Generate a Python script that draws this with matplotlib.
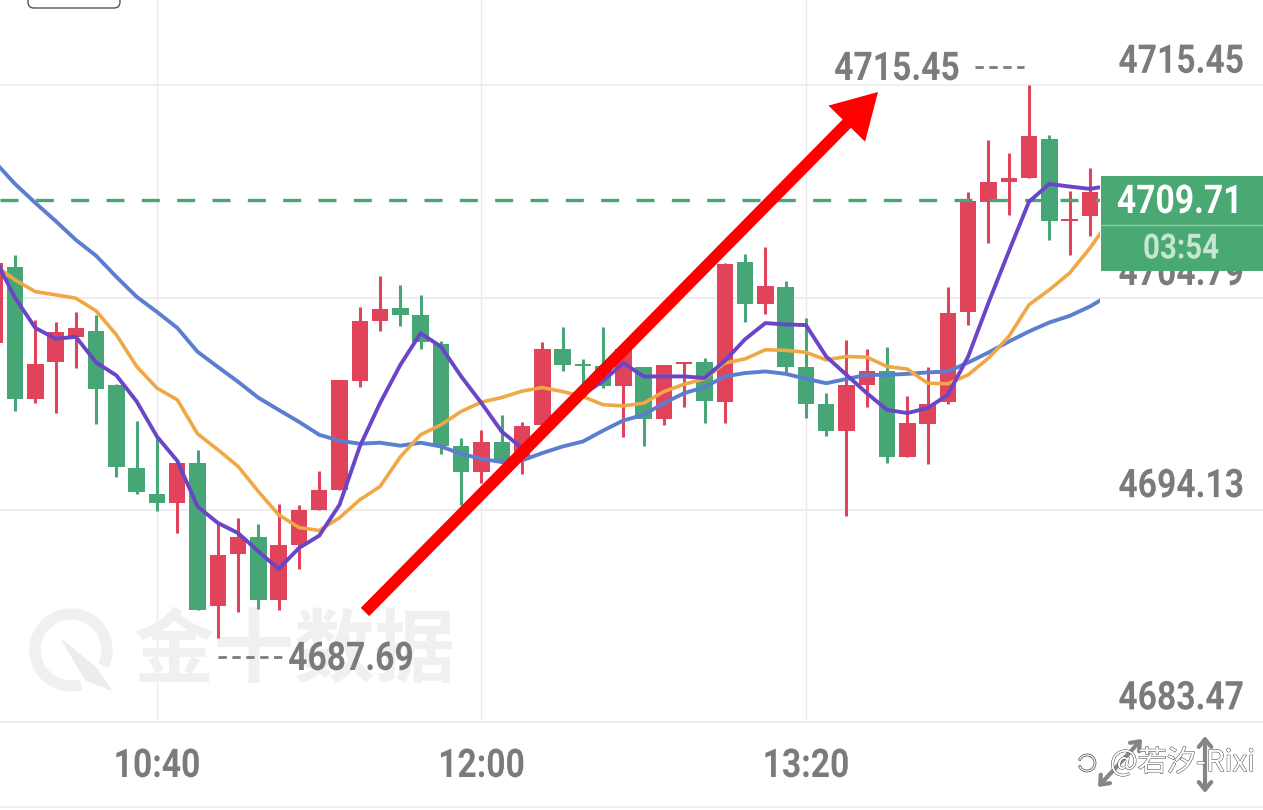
import numpy as np
import matplotlib
matplotlib.use("Agg")
import matplotlib.pyplot as plt
import matplotlib.patheffects as pe
from matplotlib.lines import Line2D
from matplotlib.patches import FancyBboxPatch, Polygon, Rectangle, Wedge
from matplotlib.transforms import Affine2D

# candles, 5 min each, first one is cut off by the left edge
opens = [4702.52, 4706.35, 4699.69, 4701.55, 4702.83, 4703.11, 4700.41, 4696.23, 4694.92, 4694.47, 4696.46,
         4689.31, 4691.92, 4692.78, 4689.60, 4692.36, 4694.12, 4695.14, 4700.61, 4703.62, 4704.28, 4703.92,
         4702.47, 4697.31, 4696.03, 4697.55, 4696.64, 4698.37, 4702.20, 4701.43, 4701.33, 4700.37, 4701.31,
         4698.67, 4701.43, 4701.55, 4699.56, 4706.58, 4704.48, 4705.34, 4701.28, 4699.46, 4698.08, 4700.41,
         4701.11, 4696.79, 4698.42, 4699.54, 4704.06, 4709.58, 4710.62, 4710.80, 4712.76, 4708.64, 4708.89]
highs = [4706.54, 4706.94, 4703.67, 4703.54, 4704.06, 4703.92, 4700.44, 4698.57, 4697.81, 4696.48, 4697.15,
         4693.47, 4693.70, 4693.41, 4694.42, 4694.38, 4696.09, 4700.66, 4704.31, 4705.90, 4705.40, 4704.93,
         4702.60, 4697.73, 4698.15, 4698.90, 4698.52, 4702.55, 4703.32, 4701.70, 4703.32, 4702.33, 4701.31,
         4701.40, 4701.56, 4701.78, 4706.52, 4706.99, 4707.34, 4705.60, 4703.77, 4700.02, 4702.67, 4702.22,
         4702.33, 4699.86, 4701.28, 4705.33, 4710.08, 4712.71, 4712.06, 4715.45, 4712.96, 4710.15, 4711.29]
lows = [4702.52, 4699.07, 4699.51, 4698.99, 4701.23, 4698.44, 4695.80, 4694.94, 4694.08, 4692.96, 4689.08,
        4687.69, 4689.00, 4689.16, 4689.11, 4691.16, 4694.12, 4695.10, 4700.31, 4703.09, 4703.34, 4702.22,
        4696.93, 4694.38, 4695.50, 4696.49, 4695.94, 4698.37, 4701.10, 4700.32, 4700.26, 4697.81, 4697.36,
        4698.37, 4699.27, 4698.47, 4698.47, 4703.57, 4703.97, 4701.00, 4698.74, 4697.86, 4693.80, 4699.27,
        4696.48, 4696.79, 4696.43, 4699.44, 4703.42, 4707.52, 4708.96, 4710.80, 4707.67, 4706.95, 4707.86]
closes = [4706.54, 4699.71, 4701.46, 4703.04, 4703.24, 4700.22, 4696.28, 4695.04, 4694.48, 4696.48, 4689.08,
          4691.86, 4692.78, 4689.60, 4692.36, 4694.12, 4695.14, 4700.63, 4703.62, 4704.23, 4703.91, 4702.58,
          4697.35, 4696.04, 4697.55, 4696.61, 4698.35, 4702.20, 4701.41, 4701.36, 4700.36, 4702.23, 4698.67,
          4701.40, 4701.53, 4699.61, 4706.50, 4704.48, 4705.38, 4701.29, 4699.46, 4698.10, 4700.39, 4701.08,
          4696.76, 4698.47, 4699.42, 4704.01, 4709.66, 4710.59, 4710.79, 4712.90, 4708.63, 4708.76, 4710.08]

# moving averages, one point per candle plus one running under the price box
ma_purple = [4706.79, 4704.78, 4703.27, 4702.72, 4702.82, 4701.53, 4700.88, 4699.57, 4697.81, 4696.59, 4694.30,
             4693.47, 4692.96, 4692.04, 4691.16, 4692.21, 4692.83, 4694.38, 4697.31, 4699.49, 4701.41, 4703.00,
             4702.33, 4700.83, 4699.49, 4698.06, 4697.23, 4698.05, 4699.00, 4699.91, 4700.61, 4701.50, 4700.83,
             4700.83, 4700.83, 4700.75, 4701.61, 4702.70, 4703.51, 4703.44, 4703.41, 4701.83, 4700.91, 4699.99,
             4699.15, 4698.99, 4699.24, 4699.91, 4701.83, 4704.53, 4707.10, 4709.61, 4710.50, 4710.37, 4710.25, 4710.42]
ma_orange = [4706.43, 4705.68, 4705.09, 4704.93, 4704.76, 4704.12, 4702.92, 4701.33, 4700.24, 4699.66, 4697.95,
             4697.15, 4696.31, 4695.05, 4693.88, 4693.24, 4693.09, 4693.73, 4694.63, 4695.30, 4696.79, 4697.90,
             4698.40, 4699.07, 4699.54, 4699.77, 4700.09, 4700.27, 4700.07, 4699.82, 4699.41, 4699.35, 4699.49,
             4700.07, 4700.44, 4700.71, 4701.50, 4701.71, 4702.17, 4702.14, 4702.04, 4701.66, 4701.83, 4701.80,
             4701.33, 4701.20, 4700.49, 4700.46, 4700.91, 4701.75, 4702.83, 4704.43, 4705.18, 4706.02, 4707.27, 4708.71]
ma_blue = [4711.61, 4710.50, 4709.55, 4708.64, 4707.69, 4706.89, 4705.83, 4704.83, 4704.07, 4703.27, 4702.07,
           4701.31, 4700.56, 4699.76, 4699.15, 4698.55, 4697.90, 4697.60, 4697.45, 4697.50, 4697.35, 4697.50,
           4697.31, 4696.94, 4696.69, 4696.53, 4696.61, 4696.98, 4697.31, 4697.56, 4698.11, 4698.62, 4698.90,
           4699.49, 4699.99, 4700.29, 4700.83, 4701.00, 4701.08, 4700.96, 4700.71, 4700.49, 4700.70, 4700.91,
           4700.91, 4700.96, 4701.03, 4701.08, 4701.53, 4702.03, 4702.58, 4703.09, 4703.54, 4703.87, 4704.34, 4704.94]

price_ticks = [4715.45, 4704.79, 4694.13, 4683.47]
price_labels = ["4715.45", "4704.79", "4694.13", "4683.47"]
time_ticks = [7, 23, 39]
time_labels = ["10:40", "12:00", "13:20"]
last_price = 4709.71
countdown = "03:54"
high_label = "4715.45"
low_label = "4687.69"

RED = "#e0435a"
GREEN = "#46a675"
GRAY = "#7b7b7b"
GRID = "#ebebeb"
NUM_FONT = ["Roboto", "DejaVu Sans"]
CJK_FONT = ["Noto Sans CJK SC", "DejaVu Sans"]


class Squeeze(pe.AbstractPathEffect):
    # no condensed font installed, so narrow the glyphs around their centre
    def __init__(self, factor):
        super().__init__()
        self.factor = factor

    def draw_path(self, renderer, gc, tpath, affine, rgbFace=None):
        box = tpath.get_extents(affine)
        cx = (box.x0 + box.x1) / 2
        narrow = affine + Affine2D().translate(-cx, 0).scale(self.factor, 1).translate(cx, 0)
        renderer.draw_path(gc, tpath, narrow, rgbFace)


narrow = [Squeeze(0.85)]

fig = plt.figure(figsize=(12.63, 8.10), dpi=100, facecolor="white")
ax = fig.add_axes([0, 88 / 810, 1100 / 1263, 722 / 810])
ax.set_xlim(-0.74, 53.5)
ax.set_ylim(4683.47, 4719.74)
for s in ax.spines.values():
    s.set_visible(False)

# pixel positions for the app furniture (y counted from the top)
px = Affine2D().scale(1, -1).translate(0, 810)

x = np.arange(-1, 54)
o, h, l, c = map(np.array, (opens, highs, lows, closes))
colors = [RED if c[i] >= o[i] else GREEN for i in range(len(x))]

# grid
ax.set_xticks(time_ticks)
ax.set_xticklabels(time_labels, fontsize=28.5, color=GRAY, family=NUM_FONT, fontweight="bold")
for t in ax.get_xticklabels():
    t.set_path_effects(narrow)
ax.tick_params(axis="x", length=0, pad=18)
ax.set_yticks([])
ax.grid(axis="x", color=GRID, lw=1)
ax.set_axisbelow(True)
ax.hlines(price_ticks, 0, 1263 / 1100, transform=ax.get_yaxis_transform(), color=GRID, lw=1.2,
          clip_on=False, zorder=0.5)
fig.add_artist(Line2D([0, 1263], [807, 807], transform=px, color=GRID, lw=1.2))

# watermark
ax.text(294, 652, "金十数据", transform=px, fontsize=58, color="#f0f0f0", family=CJK_FONT,
        fontweight="bold", ha="center", va="center", zorder=0.6)
ax.add_patch(Wedge((71, 650), 41, 75, 385, width=10, transform=px, color="#f0f0f0", zorder=0.6))
ax.add_patch(Polygon([(62, 640), (96, 668), (111, 690), (86, 680)], transform=px, color="#ececec", zorder=0.6))

# candles
ax.vlines(x, l, h, colors=colors, lw=2.2, zorder=2)
ax.bar(x, c - o, bottom=o, width=0.81, color=colors, lw=0, zorder=2.1)

# last price line over the candles
ax.axhline(last_price, color=GREEN, lw=2.4, ls=(0, (5.4, 5.2)), zorder=2.5)

# averages
ma_x = np.arange(-1, 55)
ax.plot(ma_x, ma_blue, color="#5b7ed1", lw=2.8, zorder=3)
ax.plot(ma_x, ma_orange, color="#f0a845", lw=2.6, zorder=3.1)
ax.plot(ma_x, ma_purple, color="#6a45c8", lw=2.8, zorder=3.2)

# hand drawn arrow
ax.annotate("", xy=(878, 92), xytext=(365, 612), xycoords=px, textcoords=px, zorder=4,
            arrowprops=dict(arrowstyle="simple,head_length=32,head_width=37,tail_width=8.5",
                            mutation_scale=1, color="#ff0000", lw=0, shrinkA=0, shrinkB=0))

# price scale labels sit above their grid lines
for val, lab in zip(price_ticks, price_labels):
    a = ax.annotate(lab, xy=(1, val), xycoords=("axes fraction", "data"), xytext=(58.5, 17),
                    textcoords="offset points", ha="center", va="center", fontsize=28.5, color=GRAY,
                    family=NUM_FONT, fontweight="bold", annotation_clip=False, zorder=1)
    a.set_path_effects(narrow)

# high / low marks
t = ax.text(897, 69, high_label, transform=px, fontsize=28.5, color=GRAY, family=NUM_FONT, fontweight="bold",
            ha="center", va="center", zorder=5)
t.set_path_effects(narrow)
ax.add_line(Line2D([975, 1024], [67, 67], transform=px, color=GRAY, lw=2, ls=(0, (3, 2)), clip_on=False))
t = ax.text(351, 659, low_label, transform=px, fontsize=28.5, color=GRAY, family=NUM_FONT, fontweight="bold",
            ha="center", va="center", zorder=5)
t.set_path_effects(narrow)
ax.add_line(Line2D([218, 283], [657, 657], transform=px, color=GRAY, lw=2, ls=(0, (3, 2)), clip_on=False))

# price box on the right
ax.add_patch(Rectangle((1100.5, 176), 162, 95, transform=px, color="#4aa873", lw=0, clip_on=False, zorder=6))
ax.add_line(Line2D([1100.5, 1262], [224.5, 224.5], transform=px, color="#8fcaa9", lw=1, clip_on=False, zorder=6.1))
t = ax.text(1180, 202, f"{last_price:.2f}", transform=px, fontsize=28.5, color="white", family=NUM_FONT,
            fontweight="bold", ha="center", va="center", zorder=7)
t.set_path_effects(narrow)
t = ax.text(1181, 249, countdown, transform=px, fontsize=25, color="#c5e6d3", family=NUM_FONT,
            fontweight="bold", ha="center", va="center", zorder=7)
t.set_path_effects(narrow)

# rest of a button at the top
ax.add_patch(FancyBboxPatch((28, -12), 92, 20, boxstyle="round,pad=0,rounding_size=6", transform=px,
                            fc="white", ec="#555555", lw=1, clip_on=False, zorder=5))

# zoom icons
for a, b in [((1098, 787), (1142, 739)), ((1205, 736), (1205, 793))]:
    ax.annotate("", xy=b, xytext=a, xycoords=px, textcoords=px, annotation_clip=False,
                arrowprops=dict(arrowstyle="<->,head_length=0.55,head_width=0.45", lw=3, color="#858585",
                                shrinkA=0, shrinkB=0))

# repost tag over the corner
tag = ax.text(1110, 763, "@若汐-Rixi", transform=px, fontsize=21, color="white", family=CJK_FONT,
              ha="left", va="center", zorder=8)
tag.set_path_effects([pe.Stroke(linewidth=0.7, foreground="#444444"), pe.Normal()])
fig.add_artist(Wedge((1087, 763), 9, 200, 520, width=2, transform=px, fc="white", ec="#444444", lw=0.5))

fig.savefig("out.png", dpi=100, facecolor="white")
